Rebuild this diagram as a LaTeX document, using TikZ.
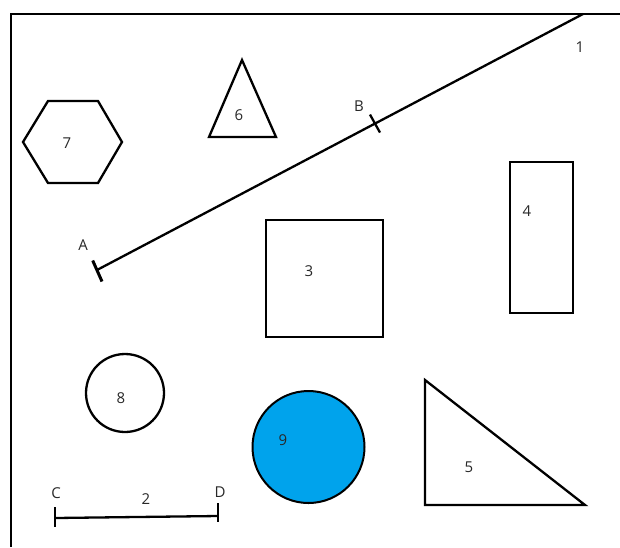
\documentclass[tikz,border=0pt]{standalone}
\usepackage{fontspec}
\setmainfont{Open Sans}
\usetikzlibrary{calc}
\definecolor{fillblue}{RGB}{0,163,236}
\definecolor{labelgray}{RGB}{40,40,40}
\tikzset{
  outl/.style={draw=black, line width=2.3pt, line join=miter},
  lbl/.style={font=\fontsize{15}{17}\selectfont, text=labelgray, inner sep=0pt},
  tickmark/.style={draw=black, line width=2.3pt},
}
\begin{document}
\begin{tikzpicture}[x=1pt,y=-1pt]
\useasboundingbox (0,0) rectangle (620,547);
\fill[white] (0,0) rectangle (620,547);
% border (top and left)
\draw[line width=2.5pt] (11,547) -- (11,14) -- (620,14);
% line 1 with ticks A and B
\coordinate (A) at (97,270);
\coordinate (E) at (583,14);
\draw[line width=2.3pt] (A) -- (E);
\coordinate (Bt) at ($(A)!0.572!(E)$);
\draw[tickmark, line width=3pt] ($(A)+(-4.3,-9.5)$) -- ($(A)+(5.0,11.5)$);
\draw[tickmark] ($(Bt)+(-5,-9)$) -- ($(Bt)+(5,9)$);
\node[lbl] (lA) at (83,245) {A};
\node[lbl] (lB) at (359,106) {B};
\node[lbl] (l1) at (580,47) {1};
% hexagon 7
\draw[outl] (23,142) -- (48,101) -- (98,101) -- (122,142) -- (98,183) -- (48,183) -- cycle;
\node[lbl] (l7) at (67,143) {7};
% triangle 6
\draw[outl] (242,60) -- (276,137) -- (209,137) -- cycle;
\node[lbl] (l6) at (239,115) {6};
% rectangle 4
\draw[outl] (510,162) rectangle (573,313);
\node[lbl] (l4) at (527,211) {4};
% square 3
\draw[outl] (266,220) rectangle (383,337);
\node[lbl] (l3) at (309,271) {3};
% circle 8
\draw[outl] (125,393) circle[radius=39];
\node[lbl] (l8) at (121,398) {8};
% circle 9
\draw[line width=2pt, draw=black, fill=fillblue] (308.5,447) circle[radius=56];
\node[lbl] (l9) at (283,440) {9};
% triangle 5
\draw[outl] (425,380) -- (585,505) -- (425,505) -- cycle;
\node[lbl] (l5) at (469,467) {5};
% segment C-D
\coordinate (C) at (55,518);
\coordinate (D) at (218,516);
\draw[line width=2.3pt] (C) -- (D);
\draw[tickmark] ($(C)+(0,-11)$) -- ($(C)+(0,9)$);
\draw[tickmark] ($(D)+(0,-13)$) -- ($(D)+(0,6)$);
\node[lbl] (lC) at (56,493) {C};
\node[lbl] (lD) at (220,492) {D};
\node[lbl] (l2) at (146,499) {2};
\end{tikzpicture}
\end{document}
